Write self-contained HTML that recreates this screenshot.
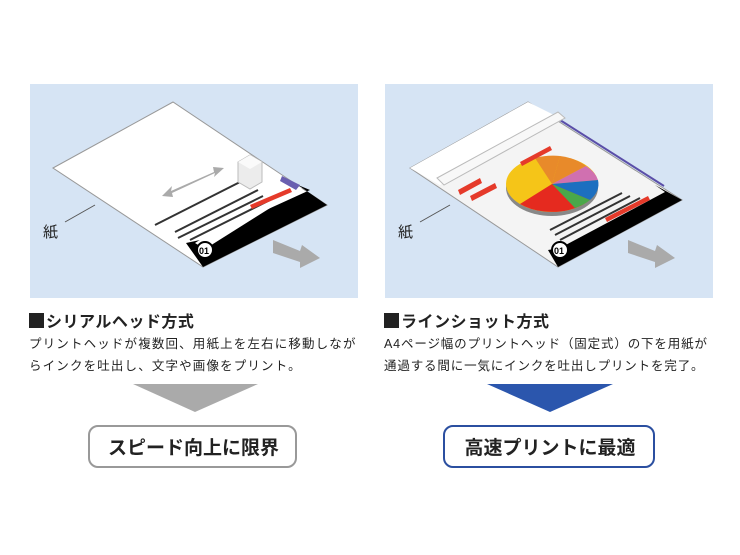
<!DOCTYPE html>
<html><head><meta charset="utf-8"><style>
body{margin:0;background:#fff;width:740px;height:555px;overflow:hidden;font-family:"Liberation Sans","Noto Sans CJK JP",sans-serif;}
.t{position:absolute;color:#222;white-space:nowrap}
</style></head><body>
<svg width="740" height="555" style="position:absolute;left:0;top:0">
<rect x="30" y="84" width="328" height="214" fill="#d6e4f4"/>
<polygon points="53,168 173,102 327,205 203,267" fill="#fff" stroke="#999" stroke-width="1"/>
<polygon points="298,185 327,205 203,267 186,243 200,240 310,190" fill="#000"/>
<polygon points="290,182 302,188 205,249 195,243" fill="#fff"/>
<polygon points="282,176 300,185 296,190 280,181" fill="#6a5fb0"/>
<circle cx="205" cy="250" r="8" fill="#fff" stroke="#000" stroke-width="2"/>
<text x="199" y="254" font-size="9" font-weight="bold">01</text>
<g stroke="#333" stroke-width="2">
<line x1="155" y1="225" x2="240" y2="182"/>
<line x1="175" y1="232" x2="258" y2="190"/>
<line x1="178" y1="238" x2="263" y2="196"/>
<line x1="190" y1="240" x2="270" y2="200"/>
</g>
<polygon points="250,205 290,188 292,192 252,209" fill="#e53a2a"/>
<polygon points="238,162 250,155 262,162 262,182 250,189 238,182" fill="#ececec" stroke="#bbb"/>
<polygon points="238,162 250,155 262,162 250,169" fill="#fafafa"/>
<polygon points="162,196 172,186 171,191 214,172 213,167 224,168 214,177 215,173 172,193 173,197" fill="#aaa"/>
<polygon points="273,240 300,251 302,245 320,258 300,268 300,262 273,253" fill="#aaa"/>
<line x1="65" y1="222" x2="95" y2="205" stroke="#555"/>
<text x="43" y="237" font-size="15" fill="#222" font-family="Noto Sans CJK JP">紙</text>
<rect x="385" y="84" width="328" height="214" fill="#d6e4f4"/>
<polygon points="410,168 528,102 682,200 558,267" fill="#f4f4f4" stroke="#999"/>
<polygon points="410,168 528,102 560,118 440,185" fill="#fff"/>
<line x1="560" y1="120" x2="664" y2="186" stroke="#5a4ea8" stroke-width="2"/>
<polygon points="655,185 682,200 558,267 548,250 560,248 665,192" fill="#000"/>
<circle cx="560" cy="250" r="8" fill="#fff" stroke="#000" stroke-width="2"/>
<text x="554" y="254" font-size="9" font-weight="bold">01</text>
<polygon points="437,178 558,112 565,118 444,185" fill="#f8f8f8" stroke="#bbb"/>
<ellipse cx="552" cy="188" rx="46" ry="28" fill="#888"/>
<ellipse cx="552" cy="184" rx="46" ry="28" fill="#f5c518"/>
<path d="M552,184 L598,184 A46,28 0 0 1 520,204 Z" fill="#e52a1f"/>
<path d="M552,184 L560,156 A46,28 0 0 1 586,166 Z" fill="#e88a2a"/>
<path d="M552,184 L586,166 A46,28 0 0 1 598,180 Z" fill="#d070b0"/>
<path d="M552,184 L598,180 A46,28 0 0 1 590,200 Z" fill="#1c6fc0"/>
<path d="M552,184 L590,200 A46,28 0 0 1 575,208 Z" fill="#4aa84a"/>
<path d="M552,184 L535,158 A46,28 0 0 1 560,156 Z" fill="#e88a2a"/>
<polygon points="520,162 550,146 552,150 522,166" fill="#e53a2a"/>
<polygon points="458,190 480,178 482,183 460,195" fill="#e53a2a"/>
<polygon points="470,196 495,183 497,188 472,201" fill="#e53a2a"/>
<polygon points="605,218 648,196 650,200 607,222" fill="#e53a2a"/>
<g stroke="#333" stroke-width="2">
<line x1="560" y1="240" x2="640" y2="198"/>
<line x1="555" y1="235" x2="630" y2="196"/>
<line x1="550" y1="230" x2="622" y2="193"/>
</g>
<polygon points="628,240 655,251 657,245 675,258 655,268 655,262 628,253" fill="#aaa"/>
<line x1="420" y1="222" x2="450" y2="205" stroke="#555"/>
<text x="398" y="237" font-size="15" fill="#222" font-family="Noto Sans CJK JP">紙</text>
<polygon points="133,384 258,384 195,412" fill="#aaa"/>
<polygon points="487,384 613,384 550,412" fill="#2b56ad"/>
<rect x="89" y="426" width="207" height="41" rx="9" fill="#fff" stroke="#999" stroke-width="2"/>
<rect x="444" y="426" width="210" height="41" rx="9" fill="#fff" stroke="#2b4fa0" stroke-width="2"/>
<rect x="29" y="313" width="15" height="15" fill="#222"/>
<rect x="384" y="313" width="15" height="15" fill="#222"/>
</svg>
<div class="t" style="left:46px;top:308px;font-size:16px;font-weight:bold;letter-spacing:0.5px">シリアルヘッド方式</div>
<div class="t" style="left:29px;top:333px;font-size:12.5px;line-height:22px;letter-spacing:1.15px">プリントヘッドが複数回、用紙上を左右に移動しなが<br>らインクを吐出し、文字や画像をプリント。</div>
<div class="t" style="left:401px;top:308px;font-size:16px;font-weight:bold;letter-spacing:0.5px">ラインショット方式</div>
<div class="t" style="left:384px;top:333px;font-size:12.5px;line-height:22px;letter-spacing:0.85px">A4ページ幅のプリントヘッド（固定式）の下を用紙が<br>通過する間に一気にインクを吐出しプリントを完了。</div>
<div class="t" style="left:89px;top:433px;width:209px;text-align:center;font-size:19px;font-weight:bold">スピード向上に限界</div>
<div class="t" style="left:444px;top:433px;width:212px;text-align:center;font-size:19px;font-weight:bold">高速プリントに最適</div>
</body></html>
